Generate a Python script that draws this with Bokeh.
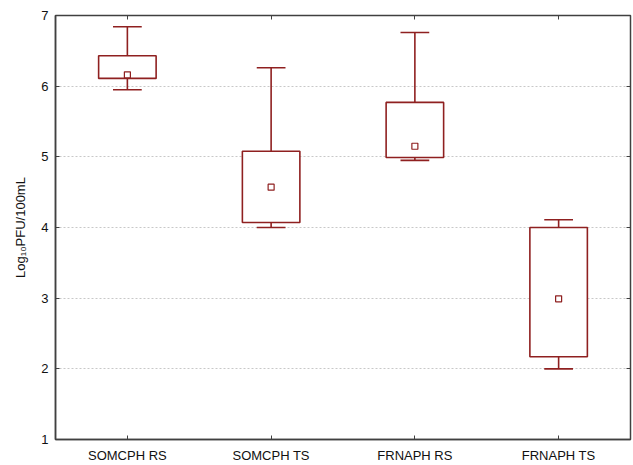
from bokeh.plotting import figure
from bokeh.models import ColumnDataSource, LinearAxis, CategoricalAxis, FixedTicker
from bokeh.transform import dodge
from bokeh.embed import file_html
from bokeh.resources import INLINE

categories = ["SOMCPH RS", "SOMCPH TS", "FRNAPH RS", "FRNAPH TS"]
whisker_low = [5.95, 4.00, 4.95, 2.00]
box_low = [6.11, 4.07, 4.99, 2.17]
means = [6.16, 4.57, 5.15, 2.99]
box_high = [6.43, 5.08, 5.77, 4.00]
whisker_high = [6.84, 6.26, 6.76, 4.11]
y_ticks = [1, 2, 3, 4, 5, 6, 7]

RED = "#8f2020"
FONT = "Liberation Sans"

src = ColumnDataSource(dict(cat=categories, wl=whisker_low, bl=box_low, m=means,
                            bh=box_high, wh=whisker_high))

p = figure(x_range=categories, y_range=(1, 7), width=633, height=465,
           output_backend="svg", toolbar_location=None,
           min_border_left=55, min_border_right=3, min_border_top=15, min_border_bottom=26)

p.outline_line_color = "#404040"
p.outline_line_width = 1.5
p.xgrid.visible = False
p.ygrid.grid_line_color = "#c8c8c8"
p.ygrid.grid_line_dash = "2 2"
p.ygrid.ticker = FixedTicker(ticks=y_ticks)

p.yaxis.ticker = FixedTicker(ticks=y_ticks)
p.yaxis.axis_label = "Log₁₀PFU/100mL"
p.yaxis.axis_label_text_font = FONT
p.yaxis.axis_label_text_font_style = "normal"
p.yaxis.axis_label_text_font_size = "13px"
p.yaxis.axis_label_text_color = "#111111"
p.yaxis.axis_label_standoff = 10
for ax in (p.xaxis[0], p.yaxis[0]):
    ax.major_label_text_font = FONT
    ax.major_label_text_color = "#111111"
    ax.axis_line_color = "#404040"
    ax.axis_line_width = 1.5
    ax.major_tick_in = 4
    ax.major_tick_out = 0
    ax.minor_tick_line_color = None
    ax.major_tick_line_color = "#404040"
p.yaxis.major_label_text_font_size = "13px"
p.xaxis.major_label_text_font_size = "13px"
p.yaxis.major_label_standoff = 7
p.xaxis.major_label_standoff = 8

right = LinearAxis(ticker=FixedTicker(ticks=y_ticks),
                   major_label_overrides={t: "" for t in y_ticks},
                   major_tick_in=4, major_tick_out=0, minor_tick_line_color=None,
                   axis_line_color=None, major_label_standoff=0, major_tick_line_color="#404040")
p.add_layout(right, "right")
top = CategoricalAxis(major_label_text_color=None, major_label_text_font_size="1px",
                      major_tick_in=4, major_tick_out=0,
                      axis_line_color=None, major_label_standoff=0, major_tick_line_color="#404040")
p.add_layout(top, "above")

# whiskers
p.segment(x0="cat", x1="cat", y0="bh", y1="wh", source=src, line_color=RED, line_width=1.6)
p.segment(x0="cat", x1="cat", y0="wl", y1="bl", source=src, line_color=RED, line_width=1.6)
# caps
p.segment(x0=dodge("cat", -0.1, range=p.x_range), x1=dodge("cat", 0.1, range=p.x_range),
          y0="wh", y1="wh", source=src, line_color=RED, line_width=1.6)
p.segment(x0=dodge("cat", -0.1, range=p.x_range), x1=dodge("cat", 0.1, range=p.x_range),
          y0="wl", y1="wl", source=src, line_color=RED, line_width=1.6)
# boxes
p.vbar(x="cat", top="bh", bottom="bl", width=0.4, source=src, fill_color="white",
       line_color=RED, line_width=1.6)
# means
p.scatter(x="cat", y="m", source=src, marker="square", size=6, fill_color="white",
          line_color=RED, line_width=1.2)

open("out.html", "w").write(file_html(p, INLINE))
